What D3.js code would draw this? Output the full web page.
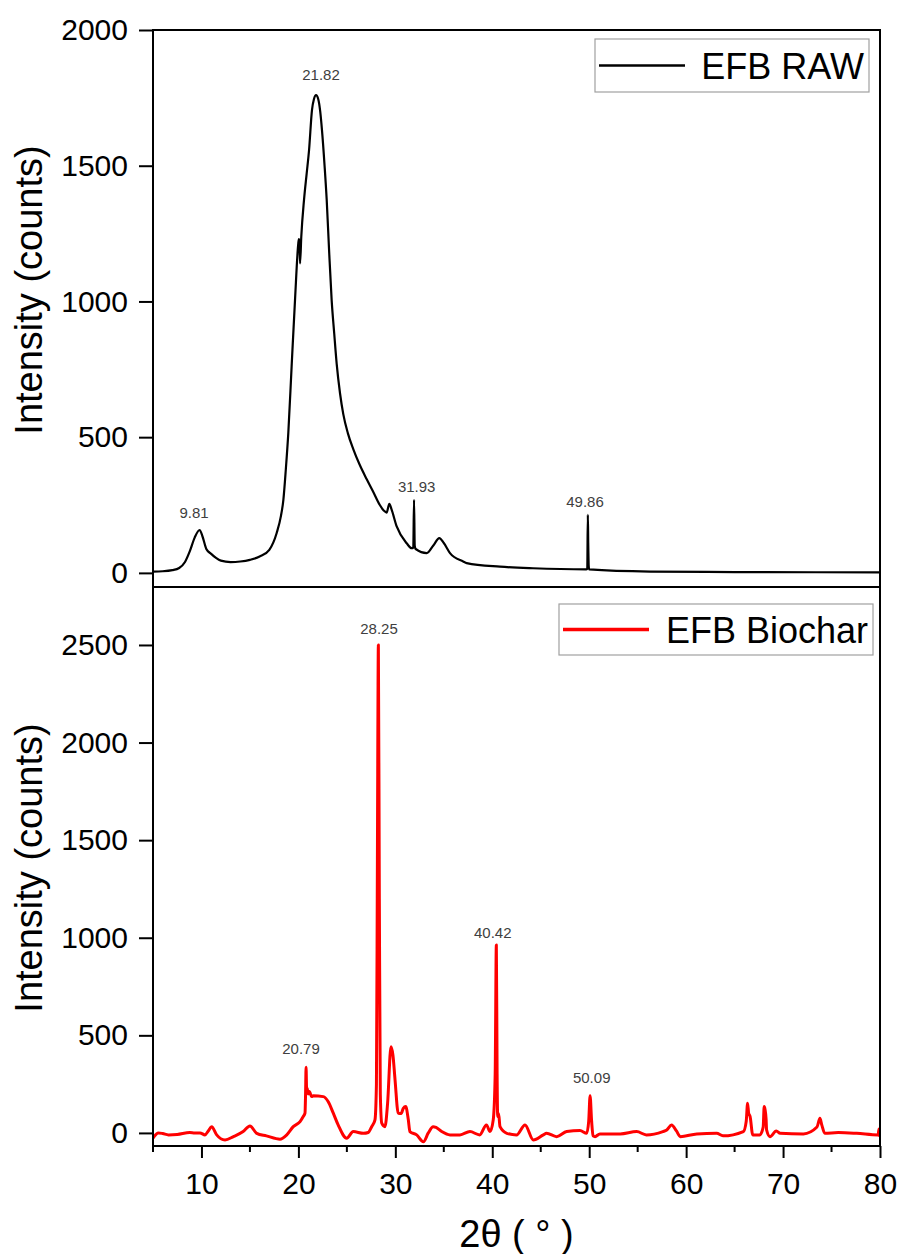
<!DOCTYPE html>
<html>
<head>
<meta charset="utf-8">
<script src="https://cdn.jsdelivr.net/npm/d3@7"></script>
<style>
  body { margin: 0; background: #fff; }
  svg { display: block; font-family: "Liberation Sans", Arial, sans-serif; }
</style>
</head>
<body>
<svg id="chart" width="899" height="1254"></svg>
<script>
// EFB RAW (top panel): 2theta and intensity
const rawTheta = [5.0, 6, 7, 7.7, 8.3, 8.8, 9.3, 9.81, 10.1, 10.5, 11.0, 11.5, 12.0, 13.0, 14.0, 15.0, 16.0, 17.0, 17.76, 18.2, 18.45, 18.7, 18.96, 19.3, 19.65, 19.99, 20.05, 20.12, 20.17, 20.3, 20.58, 20.85, 21.1, 21.4, 21.6, 21.82, 22.05, 22.25, 22.43, 22.7, 22.92, 23.15, 23.43, 23.7, 23.95, 24.3, 24.63, 25.1, 25.67, 26.3, 27.05, 27.7, 28.4, 28.8, 29.1, 29.38, 29.6, 30.14, 31.17, 31.69, 31.85, 31.93, 32.0, 32.1, 33.24, 33.9, 34.54, 35.0, 35.64, 37.0, 37.36, 40.8, 44.2, 49.7, 49.8, 49.86, 49.9, 49.95, 50.0, 56.3, 65, 80];
const rawCounts = [5, 6, 10, 18, 40, 80, 130, 158, 135, 88, 70, 55, 45, 40, 42, 48, 60, 85, 147, 210, 269, 380, 516, 760, 1005, 1214, 1230, 1215, 1140, 1240, 1374, 1470, 1558, 1705, 1745, 1760, 1745, 1700, 1632, 1500, 1374, 1200, 1005, 880, 770, 660, 585, 515, 455, 400, 345, 300, 250, 230, 222, 254, 235, 171, 109, 91, 92, 269, 100, 88, 73, 100, 128, 110, 73, 42, 36, 23, 17, 13, 14, 214, 110, 25, 13, 5, 3, 2];

// EFB Biochar (bottom panel)
const charTheta = [5.0, 5.55, 6.0, 6.6, 7.5, 8.8, 9.3, 9.85, 10.36, 10.7, 11.05, 11.57, 12.43, 13.3, 14.3, 15.0, 15.7, 16.7, 18.1, 18.8, 19.47, 20.17, 20.5, 20.68, 20.74, 20.79, 20.85, 20.9, 21.0, 21.13, 21.37, 21.53, 22.57, 23.08, 23.6, 24.1, 24.98, 25.66, 26.7, 27.2, 27.56, 27.9, 28.05, 28.15, 28.25, 28.35, 28.45, 28.6, 28.93, 29.2, 29.55, 29.75, 29.97, 30.3, 30.6, 30.82, 31.07, 31.34, 31.5, 32.2, 32.9, 33.4, 33.9, 34.2, 34.78, 35.64, 36.67, 37.7, 38.7, 39.4, 39.77, 40.1, 40.3, 40.42, 40.5, 40.56, 40.65, 40.8, 41.5, 42.5, 43.38, 44.24, 45.27, 45.6, 46.65, 47.68, 49.05, 49.74, 49.95, 50.09, 50.25, 50.4, 50.6, 51.1, 53.2, 54.9, 55.9, 57.6, 58.0, 58.5, 59.0, 59.4, 61.1, 63.15, 63.8, 65.9, 66.2, 66.34, 66.45, 66.6, 66.87, 67.6, 67.95, 68.05, 68.14, 68.25, 68.3, 68.65, 69.3, 69.7, 72.1, 73.5, 73.8, 74.0, 74.3, 75.7, 77.6, 79.8, 79.9, 80];
const charCounts = [-27, 0, -3, -10, -8, 2, 0, 0, -10, 10, 32, -10, -36, -19, 7, 36, -2, -15, -32, -10, 32, 58, 84, 101, 200, 336, 220, 230, 200, 212, 186, 190, 186, 160, 101, 41, -27, 7, -2, 2, 32, 67, 250, 1400, 2500, 1200, 200, 50, 32, 150, 442, 400, 272, 101, 100, 126, 135, 67, 7, -10, -45, 0, 32, 28, 7, -10, -10, 7, -10, 41, 7, 67, 300, 963, 300, 84, 100, 32, -2, -10, 41, -36, -10, -2, -19, 7, 12, -2, 60, 190, 60, -15, -19, -5, -5, 7, -10, 7, 15, 41, 10, -19, -5, -2, -15, 7, 60, 152, 100, 84, -10, -10, 30, 135, 120, 70, 15, -19, 10, -2, -5, 30, 75, 40, -2, 2, -2, -10, 20, -20];

// peak annotations (label anchor in data units)
const rawPeakText = ["9.81", "21.82", "31.93", "49.86"];
const rawPeakX = [9.23, 22.33, 32.2, 49.57];
const rawPeakY = [203, 1816, 298, 243];
const charPeakText = ["20.79", "28.25", "40.42", "50.09"];
const charPeakX = [20.27, 28.32, 40.05, 50.26];
const charPeakY = [405, 2556, 999, 256];

const xTicks = [10, 20, 30, 40, 50, 60, 70, 80];
const xMinorTicks = [5, 15, 25, 35, 45, 55, 65, 75];
const rawYTicks = [0, 500, 1000, 1500, 2000];
const charYTicks = [0, 500, 1000, 1500, 2000, 2500];

const left = 153, right = 880;
const svg = d3.select("#chart");

const x = d3.scaleLinear().domain([5, 80]).range([left, right]);

function panel(opts) {
  const y = d3.scaleLinear().domain(opts.domain).range([opts.bottom, opts.top]);
  const g = svg.append("g");
  const clipId = "clip" + opts.top;
  svg.append("clipPath").attr("id", clipId)
    .append("rect")
    .attr("x", left).attr("y", opts.top)
    .attr("width", right - left).attr("height", opts.bottom - opts.top);

  const data = opts.theta.map((t, i) => [t, opts.counts[i]]);
  const line = d3.line()
    .x(d => x(d[0]))
    .y(d => y(d[1]))
    .curve(d3.curveMonotoneX);

  g.append("path")
    .datum(data)
    .attr("clip-path", `url(#${clipId})`)
    .attr("fill", "none")
    .attr("stroke", opts.color)
    .attr("stroke-width", opts.width)
    .attr("stroke-linejoin", "round")
    .attr("d", line);

  // peak labels
  g.selectAll(".peak")
    .data(opts.peakText)
    .join("text")
    .attr("x", (d, i) => x(opts.peakX[i]))
    .attr("y", (d, i) => y(opts.peakY[i]))
    .attr("text-anchor", "middle")
    .attr("font-size", 15)
    .attr("fill", "#404040")
    .text(d => d);

  // frame
  g.append("rect")
    .attr("x", left).attr("y", opts.top)
    .attr("width", right - left).attr("height", opts.bottom - opts.top)
    .attr("fill", "none").attr("stroke", "#000").attr("stroke-width", 2);

  // y axis
  const ay = g.append("g")
    .attr("transform", `translate(${left},0)`)
    .call(d3.axisLeft(y).tickValues(opts.yTicks).tickFormat(d3.format("d"))
      .tickSize(14).tickSizeOuter(0).tickPadding(11));
  ay.select(".domain").remove();
  ay.selectAll("line").attr("stroke", "#000").attr("stroke-width", 2);
  ay.selectAll("text").attr("font-size", 30).attr("fill", "#000").attr("font-family", "Liberation Sans, Arial, sans-serif");

  g.append("text")
    .attr("transform", `translate(42,${opts.titleY}) rotate(-90)`)
    .attr("text-anchor", "middle")
    .attr("font-size", 38)
    .attr("fill", "#000")
    .text("Intensity (counts)");

  // legend
  const lg = g.append("g");
  lg.append("rect")
    .attr("x", opts.legend[0]).attr("y", opts.legend[1])
    .attr("width", opts.legend[2]).attr("height", opts.legend[3])
    .attr("fill", "#fff").attr("stroke", "#a0a0a0").attr("stroke-width", 1.2);
  const ly = opts.legend[1] + opts.legend[3] / 2;
  lg.append("line")
    .attr("x1", opts.legend[0] + 4).attr("x2", opts.legend[0] + 90)
    .attr("y1", ly).attr("y2", ly)
    .attr("stroke", opts.color).attr("stroke-width", opts.width + 0.5);
  lg.append("text")
    .attr("x", opts.legend[0] + opts.legend[2] - 5)
    .attr("y", ly + 13)
    .attr("text-anchor", "end")
    .attr("font-size", 36)
    .attr("fill", "#000")
    .text(opts.name);

  return y;
}

panel({
  top: 30, bottom: 587, domain: [-52, 2000],
  theta: rawTheta, counts: rawCounts, color: "#000", width: 2.2,
  peakText: rawPeakText, peakX: rawPeakX, peakY: rawPeakY,
  yTicks: rawYTicks, titleY: 290,
  legend: [595, 39, 274, 53], name: "EFB RAW"
});

panel({
  top: 587, bottom: 1146, domain: [-67, 2797],
  theta: charTheta, counts: charCounts, color: "#ff0000", width: 3,
  peakText: charPeakText, peakX: charPeakX, peakY: charPeakY,
  yTicks: charYTicks, titleY: 868,
  legend: [559, 604, 314, 51], name: "EFB Biochar"
});

// x axis (bottom panel only)
const ax = svg.append("g")
  .attr("transform", "translate(0,1146)")
  .call(d3.axisBottom(x).tickValues(xTicks).tickSize(12).tickSizeOuter(0).tickPadding(15));
ax.select(".domain").remove();
ax.selectAll("line").attr("stroke", "#000").attr("stroke-width", 2);
ax.selectAll("text").attr("font-size", 30).attr("fill", "#000").attr("font-family", "Liberation Sans, Arial, sans-serif");

svg.append("g")
  .selectAll("line")
  .data(xMinorTicks)
  .join("line")
  .attr("x1", d => x(d)).attr("x2", d => x(d))
  .attr("y1", 1146).attr("y2", 1152)
  .attr("stroke", "#000").attr("stroke-width", 2);

svg.append("text")
  .attr("x", (left + right) / 2)
  .attr("y", 1247)
  .attr("text-anchor", "middle")
  .attr("font-size", 38)
  .attr("fill", "#000")
  .text("2θ ( ° )");
</script>
</body>
</html>
